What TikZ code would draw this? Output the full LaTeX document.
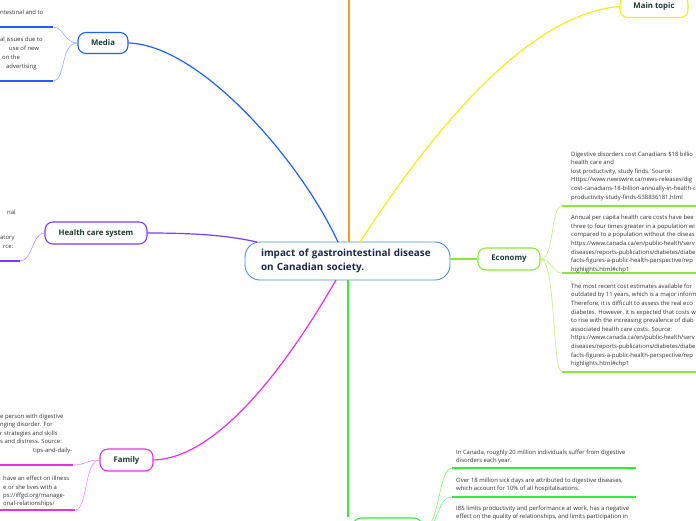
\documentclass[tikz,border=0pt]{standalone}
\usepackage{fontspec}
\setmainfont{Open Sans}
\definecolor{cborder}{HTML}{4A90D0}
\definecolor{corange}{HTML}{FF9A1F}
\definecolor{cblue}{HTML}{1F5FFF}
\definecolor{cyellow}{HTML}{F2EE1A}
\definecolor{cpurple}{HTML}{7B3BFF}
\definecolor{cmagenta}{HTML}{EA2EE8}
\definecolor{cecon}{HTML}{8BE83A}
\definecolor{cgreen}{HTML}{33EE33}
\definecolor{lblue}{HTML}{8FB0FF}
\definecolor{lpurple}{HTML}{B090FF}
\definecolor{lmagenta}{HTML}{FF88FF}
\definecolor{lecon}{HTML}{BDF080}
\definecolor{lgreen}{HTML}{77F077}
\definecolor{topictext}{HTML}{1A3C34}
\definecolor{maintext}{HTML}{1B2A4A}
\definecolor{bodytext}{HTML}{333333}
\begin{document}
\begin{tikzpicture}[x=1pt,y=-1pt,
  topic/.style={draw, line width=1.1pt, rounded corners=8pt, fill=white, text=topictext,
    font=\bfseries\fontsize{7.8}{9}\selectfont, inner sep=0pt, align=center},
  frag/.style={anchor=base west, inner sep=0pt, text=bodytext, font=\fontsize{5.9}{8.6}\selectfont},
  blk/.style={anchor=north west, inner sep=0pt, text=bodytext, font=\fontsize{5.9}{8.6}\selectfont, align=left},
  main/.style={line width=1.2pt},
  sub/.style={line width=0.6pt},
  uline/.style={line width=1.5pt}
]
\clip (0,0) rectangle (696,520);
\fill[white] (0,0) rectangle (696,520);

% ---------- nodes ----------
\node[draw=cborder, line width=0.9pt, rounded corners=15pt, fill=white, text=maintext,
  font=\bfseries\fontsize{9.9}{14}\selectfont, text width=173pt, inner xsep=16pt, inner ysep=0pt,
  minimum height=38pt, align=left] (c) at (347.5,261) {impact of gastrointestinal disease\\on Canadian society.};

\node[topic, draw=cblue, minimum width=50pt, minimum height=21pt] (m) at (103,43) {Media};
\node[topic, draw=cpurple, minimum width=102pt, minimum height=22pt] (h) at (96,233) {Health care system};
\node[topic, draw=cmagenta, minimum width=53pt, minimum height=22pt] (f) at (126.5,460) {Family};
\node[topic, draw=cecon, minimum width=62pt, minimum height=22pt] (e) at (509,259) {Economy};
\node[topic, draw=cyellow, minimum width=68pt, minimum height=22pt] (t) at (654,6.5) {Main topic};
\node[topic, draw=cgreen, minimum width=69pt, minimum height=22pt] (b) at (387.5,529) {};

% ---------- coordinates ----------
\coordinate (otop) at (349,-5);
\coordinate (cm) at (338,242);
\coordinate (co) at (349,242);
\coordinate (cy) at (360,242);
\coordinate (ch) at (257,242);
\coordinate (cf) at (336,280);
\coordinate (cg) at (348,280);

\coordinate (m1) at (53,27);   \coordinate (m1e) at (0,27);
\coordinate (m2) at (53,81);   \coordinate (m2e) at (0,81);
\coordinate (h1) at (20,261);  \coordinate (h1e) at (0,261);
\coordinate (f1) at (73,465);  \coordinate (f1e) at (0,465);
\coordinate (f2) at (75,510);  \coordinate (f2e) at (0,510);
\coordinate (e1) at (562,206); \coordinate (e1e) at (700,206);
\coordinate (e2) at (562,273); \coordinate (e2e) at (700,273);
\coordinate (e3) at (562,372); \coordinate (e3e) at (700,372);
\coordinate (b1) at (452,468); \coordinate (b1e) at (636,468);
\coordinate (b2) at (452,497); \coordinate (b2e) at (636,497);

% ---------- main branches ----------
\draw[main, corange] (co) -- (otop);
\draw[main, cblue] (cm) .. controls (300,160) and (200,45) .. (m.east);
\draw[main, cyellow] (cy) .. controls (420,150) and (520,15) .. (t.west);
\draw[main, cpurple] (h.east) .. controls (200,233) and (230,236) .. (ch);
\draw[main, cmagenta] (cf) .. controls (290,360) and (220,458) .. (f.east);
\draw[main, cecon] (c.east |- e.west) -- (e.west);
\draw[main, cgreen] (cg) -- (b.north west -| cg);

% ---------- sub connectors ----------
\draw[sub, lblue] (m.west) .. controls (64,43) and (64,27) .. (m1);
\draw[sub, lblue] (m.west) .. controls (60,43) and (66,81) .. (m2);
\draw[sub, lpurple] (h.west) .. controls (32,233) and (33,261) .. (h1);
\draw[sub, lmagenta] (f.west) .. controls (86,460) and (86,465) .. (f1);
\draw[sub, lmagenta] (f.west) .. controls (84,460) and (88,510) .. (f2);
\draw[sub, lecon] (e.east) .. controls (555,259) and (550,206) .. (e1);
\draw[sub, lecon] (e.east) .. controls (552,259) and (552,273) .. (e2);
\draw[sub, lecon] (e.east) .. controls (556,259) and (552,372) .. (e3);
\draw[sub, lgreen] (b.east) .. controls (440,529) and (438,468) .. (b1);
\draw[sub, lgreen] (b.east) .. controls (440,529) and (436,497) .. (b2);

% ---------- underlines ----------
\draw[uline, cblue] (m1) -- (m1e);
\draw[uline, cblue] (m2) -- (m2e);
\draw[uline, cpurple] (h1) -- (h1e);
\draw[uline, cmagenta] (f1) -- (f1e);
\draw[uline, cmagenta] (f2) -- (f2e);
\draw[uline, cecon] (e1) -- (e1e);
\draw[uline, cecon] (e2) -- (e2e);
\draw[uline, cecon] (e3) -- (e3e);
\draw[uline, cgreen] (b1) -- (b1e);
\draw[uline, cgreen] (b2) -- (b2e);

% ---------- left text fragments ----------
\node[frag] (ma) at (0,14) {ntestinal and to};
\node[frag] (mb) at (0,41) {al issues due to};
\node[frag] (mc) at (9,50) {use of new};
\node[frag] (md) at (2,59) {on the};
\node[frag] (me) at (6,68) {advertising};

\node[frag] (ha) at (7,214) {nal};
\node[frag] (hb) at (0,239) {atory};
\node[frag] (hc) at (3,248) {rce:};

\node[frag] (fa) at (0,418) {e person with digestive};
\node[frag] (fb) at (0,426) {nging disorder. For};
\node[frag] (fc) at (0,435) {r strategies and skills};
\node[frag] (fd) at (0,443) {s and distress. Source:};
\node[frag] (fe) at (33,452) {tips-and-daily-};
\node[frag] (ff) at (3,480) {have an effect on illness};
\node[frag] (fg) at (3,489) {e or she lives with a};
\node[frag] (fh) at (3,497) {ps://iffgd.org/manage-};
\node[frag] (fi) at (3,505) {onal-relationships/};

% ---------- economy texts ----------
\node[blk] (et1) at (571,151.5) {Digestive disorders cost Canadians \$18 billio\\health care and\\lost productivity, study finds. Source:\\Https://www.newswire.ca/news-releases/dig\\cost-canadians-18-billion-annually-in-health-c\\productivity-study-finds-538836181.html};
\node[blk] (et2) at (571,215) {Annual per capita health care costs have bee\\three to four times greater in a population wi\\compared to a population without the diseas\\https://www.canada.ca/en/public-health/serv\\diseases/reports-publications/diabetes/diabe\\facts-figures-a-public-health-perspective/rep\\highlights.html\#chp1};
\node[blk] (et3) at (571,283.5) {The most recent cost estimates available for\\outdated by 11 years, which is a major inform\\Therefore, it is difficult to assess the real eco\\diabetes. However, it is expected that costs w\\to rise with the increasing prevalence of diab\\associated health care costs. Source:\\https://www.canada.ca/en/public-health/serv\\diseases/reports-publications/diabetes/diabe\\facts-figures-a-public-health-perspective/rep\\highlights.html\#chp1};

% ---------- bottom texts ----------
\node[blk] (bt1) at (456,449.5) {In Canada, roughly 20 million individuals suffer from digestive\\disorders each year.};
\node[blk] (bt2) at (456,477.5) {Over 18 million sick days are attributed to digestive diseases,\\which account for 10\% of all hospitalisations.};
\node[blk] (bt3) at (456,505.5) {IBS limits productivity and performance at work, has a negative\\effect on the quality of relationships, and limits participation in};
\end{tikzpicture}
\end{document}
